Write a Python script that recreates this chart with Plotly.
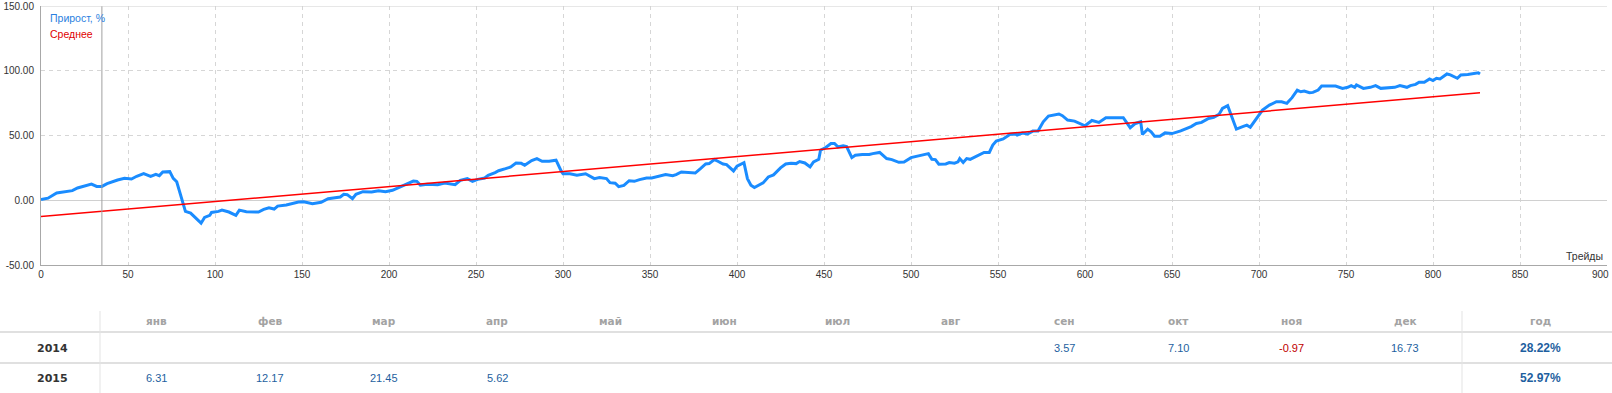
import plotly.graph_objects as go

# ---------------- data ----------------
trades = [0, 4, 9, 12, 14, 18, 21, 25, 29, 32, 35, 38, 41, 44, 48, 52, 55, 59, 63, 66, 68, 70, 74, 76, 78, 81,
          83, 86, 89, 92, 94, 97, 98, 102, 104, 108, 112, 114, 118, 125, 128, 131, 134, 136, 141, 144, 148, 151,
          156, 161, 165, 169, 172, 174, 176, 179, 181, 185, 190, 194, 198, 202, 206, 210, 214, 216, 218, 222,
          228, 232, 238, 241, 245, 248, 251, 255, 257, 261, 263, 267, 270, 273, 276, 278, 282, 285, 288, 292,
          296, 299,
          300, 304, 308, 313, 316, 318, 321, 325, 327, 330, 332, 335, 338, 341, 344, 348, 351, 354, 359, 363,
          365, 368, 373, 376, 379, 382, 384, 387, 389, 392, 394, 398, 400, 404, 406, 408, 410, 413, 415, 418,
          421, 425, 428, 431, 434, 436, 439, 442, 444, 447, 448, 451, 454, 456, 458, 461, 463, 466, 468, 472,
          476, 478, 482, 486, 489, 493, 496, 500, 504, 507, 510, 512, 514, 516, 520, 522, 525, 527, 528, 530,
          532, 534, 537, 542, 545, 547, 549, 553, 557, 560, 561, 564, 567, 570, 573, 576, 579, 582, 585, 587,
          590, 594, 597,
          600, 604, 608, 612, 616, 622, 626, 629, 632, 633, 636, 638, 640, 643, 646, 650, 655, 659, 661, 664,
          667, 671, 674, 677, 679, 682, 684, 687, 691, 693, 695, 699, 702, 706, 710, 713, 716, 719, 722, 724,
          726, 729, 731, 734, 736, 739, 744, 748, 751, 753, 755, 756, 760, 764, 767, 770, 773, 778, 781, 785,
          787, 790, 792, 795, 798, 800, 802, 804, 808, 810, 814, 816, 820, 823, 826, 827]

growth = [0.5, 1.6, 5.6, 6.1, 6.4, 7.4, 9.5, 10.9, 12.5, 10.7, 10.7, 12.8, 14.5, 15.6, 16.9, 16.4, 18.5, 20.5,
          18.4, 20.0, 19.0, 21.8, 22.1, 16.9, 14.3, 1.4,
          -8.6, -9.9, -13.8, -17.7, -13.3, -11.7, -9.4, -8.6, -7.6, -9.1, -11.7, -7.6, -8.9, -9.1, -7.1, -5.8,
          -6.8, -4.5, -3.7, -2.7, -1.4, -1.1,
          -2.7, -1.6, 1.2, 2.0, 2.5, 4.6, 4.3, 1.2, 4.6, 6.6, 6.4, 7.4, 6.6, 7.7, 10.2, 12.5, 14.8, 14.6, 11.7,
          12.3,
          12.0, 13.3, 12.0, 15.4, 16.7, 14.6, 16.1, 17.2, 19.2, 21.3, 22.8, 24.4, 25.7, 28.8, 28.5, 27.0, 30.6,
          32.2, 30.1, 30.1,
          30.9, 22.4,
          20.5, 20.5, 19.3, 20.5, 18.0, 16.7, 17.5, 16.7, 13.6, 13.1, 10.5, 11.5, 15.1, 14.6, 15.9, 17.2, 17.2,
          18.2, 19.8, 19.0,
          19.8, 21.8, 21.6, 21.0, 24.4, 28.0, 28.3, 31.4, 30.1, 28.0, 27.5, 22.6, 26.4, 29.0, 16.7, 11.6, 9.8,
          12.1, 13.4, 18.0,
          19.6, 25.0, 28.0, 28.6, 28.3, 29.9, 28.8, 25.7, 29.6, 31.6, 38.6, 40.7, 43.8, 43.8, 41.2, 42.0, 41.5,
          32.9, 34.7, 35.3,
          35.3, 36.0, 36.9, 32.2, 31.4, 29.3, 29.6, 32.9, 34.0, 35.0, 36.0, 31.6, 31.4, 27.8, 28.0, 29.1, 28.6,
          29.6, 32.2, 29.1,
          32.2, 31.6, 33.5, 36.9, 36.9, 42.6, 45.7, 47.3, 50.9, 51.2, 50.4, 51.9, 51.2, 53.4, 53.4, 60.6, 65.0,
          65.8, 66.6, 65.3,
          61.9, 61.1, 59.3,
          57.5, 61.6, 60.1, 63.7, 63.7, 63.7, 56.0, 59.3, 60.6, 50.8, 54.9, 52.8, 49.5, 49.5, 52.0, 51.5, 53.6,
          55.4, 56.9, 59.3,
          60.1, 63.2, 64.0, 66.3, 70.9, 73.0, 65.3, 54.9, 57.0, 58.0, 56.4, 64.5, 69.6, 73.5, 76.1, 76.1, 74.8,
          79.2, 85.1, 83.8,
          84.3, 83.1, 83.3, 85.1, 88.2, 88.2, 88.2, 86.4, 87.2, 88.5, 87.2, 89.0, 86.4, 87.2, 88.5, 86.4, 86.9,
          87.2, 88.5, 87.2,
          88.5, 89.5, 91.1, 91.1, 93.7, 92.4, 94.2, 93.7, 97.5, 96.8, 94.2, 96.8, 97.1, 97.8, 98.4, 97.5]

avg_trades = [0, 827]
avg_values = [-12.5, 83.0]

marker_trade = 35

x_ticks = list(range(0, 901, 50))
y_ticks = [-50, 0, 50, 100, 150]

months = ["янв", "фев", "мар", "апр", "май", "июн", "июл", "авг", "сен", "окт", "ноя", "дек"]
year_header = "год"
years = ["2014", "2015"]
monthly = [
    [None, None, None, None, None, None, None, None, 3.57, 7.10, -0.97, 16.73],
    [6.31, 12.17, 21.45, 5.62, None, None, None, None, None, None, None, None],
]
yearly = [28.22, 52.97]

# ---------------- layout helpers ----------------
W, H = 1612, 393
PL, PR, PT, PB = 41, 1607, 6, 265


def px_x(x):
    return (x - PL) / (PR - PL)


def px_y(y):
    return (PB - y) / (PB - PT)


BLUE = "#1a8cff"
RED = "#ff0000"
GRID = "#d6d6d6"
AXIS = "#a8a8a8"

fig = go.Figure()
fig.add_trace(go.Scatter(x=trades, y=growth, mode="lines",
                         line=dict(color=BLUE, width=3), name="Прирост, %", hoverinfo="skip"))
fig.add_trace(go.Scatter(x=avg_trades, y=avg_values, mode="lines",
                         line=dict(color=RED, width=1.5), name="Среднее", hoverinfo="skip"))

shapes = []
# vertical marker line
shapes.append(dict(type="line", xref="x", yref="y", x0=marker_trade, x1=marker_trade, y0=-50, y1=150,
                   line=dict(color="#a0a0a0", width=1)))
# top border
shapes.append(dict(type="line", xref="x", yref="y", x0=0, x1=900, y0=150, y1=150,
                   line=dict(color="#cfcfcf", width=1)))

# table lines
TCOL0, TCOLY = 100, 1462
ROW_HDR, ROW1, ROW2 = 321, 348, 378
for yy in (332, 363):
    shapes.append(dict(type="line", xref="paper", yref="paper", x0=px_x(0), x1=px_x(W), y0=px_y(yy), y1=px_y(yy),
                       line=dict(color="#e0e0e0", width=2)))
for xx in (TCOL0, TCOLY):
    shapes.append(dict(type="line", xref="paper", yref="paper", x0=px_x(xx), x1=px_x(xx), y0=px_y(311),
                       y1=px_y(H), line=dict(color="#e3e3e3", width=1)))

ann = []
ann.append(dict(text="Прирост, %", x=px_x(48), y=px_y(18), xref="paper", yref="paper", xanchor="left",
                yanchor="middle", showarrow=False, font=dict(family="Liberation Sans", size=10.5, color="#2a7fe0")))
ann.append(dict(text="Среднее", x=px_x(48), y=px_y(34), xref="paper", yref="paper", xanchor="left",
                yanchor="middle", showarrow=False, font=dict(family="Liberation Sans", size=10.5, color="#e00000")))
ann.append(dict(text="Трейды", x=px_x(1605), y=px_y(256), xref="paper", yref="paper", xanchor="right",
                yanchor="middle", showarrow=False, font=dict(family="Liberation Sans", size=10.5, color="#333333")))
# last x tick label (kept inside the page at its right edge)
ann.append(dict(text=str(x_ticks[-1]), x=px_x(1611), y=px_y(274), xref="paper", yref="paper", xanchor="right",
                yanchor="middle", showarrow=False, font=dict(family="Liberation Sans", size=10, color="#333333")))

colw = (TCOLY - TCOL0) / 12
for i, m in enumerate(months):
    cx = TCOL0 + colw * (i + 0.5)
    ann.append(dict(text="<b>%s</b>" % m, x=px_x(cx), y=px_y(ROW_HDR), xref="paper", yref="paper",
                    xanchor="center", yanchor="middle", showarrow=False,
                    font=dict(family="DejaVu Sans", size=10.5, color="#a3a3a3")))
ann.append(dict(text="<b>%s</b>" % year_header, x=px_x(1540), y=px_y(ROW_HDR), xref="paper", yref="paper",
                xanchor="center", yanchor="middle", showarrow=False,
                font=dict(family="DejaVu Sans", size=10.5, color="#a3a3a3")))

for r, (yr, vals, tot) in enumerate(zip(years, monthly, yearly)):
    ry = ROW1 if r == 0 else ROW2
    ann.append(dict(text="<b>%s</b>" % yr, x=px_x(52), y=px_y(ry), xref="paper", yref="paper",
                    xanchor="center", yanchor="middle", showarrow=False,
                    font=dict(family="DejaVu Sans", size=11, color="#333333")))
    for i, v in enumerate(vals):
        if v is None:
            continue
        cx = TCOL0 + colw * (i + 0.5)
        ann.append(dict(text="%.2f" % v, x=px_x(cx), y=px_y(ry), xref="paper", yref="paper",
                        xanchor="center", yanchor="middle", showarrow=False,
                        font=dict(family="Liberation Sans", size=11,
                                  color="#c00000" if v < 0 else "#1e5fa0")))
    ann.append(dict(text="<b>%.2f%%</b>" % tot, x=px_x(1540), y=px_y(ry), xref="paper", yref="paper",
                    xanchor="center", yanchor="middle", showarrow=False,
                    font=dict(family="Liberation Sans", size=12, color="#1e5fa0")))

fig.update_layout(
    width=W, height=H, autosize=False,
    margin=dict(l=PL, r=W - PR, t=PT, b=H - PB, pad=0, autoexpand=False),
    paper_bgcolor="white", plot_bgcolor="white",
    showlegend=False, hovermode=False,
    shapes=shapes, annotations=ann,
    font=dict(family="Liberation Sans", size=10, color="#333333"),
)
fig.update_xaxes(range=[0, 900], tickvals=x_ticks, ticktext=[str(v) for v in x_ticks],
                 automargin=False,
                 showgrid=True, gridcolor=GRID, griddash="4px,4px", gridwidth=1,
                 showline=True, linecolor=AXIS, linewidth=1, zeroline=False,
                 ticks="", tickfont=dict(family="Liberation Sans", size=10, color="#333333"))
fig.update_yaxes(range=[-50, 150], tickvals=y_ticks, ticktext=["%.2f" % v for v in y_ticks],
                 automargin=False,
                 showgrid=True, gridcolor=GRID, griddash="4px,4px", gridwidth=1,
                 showline=True, linecolor=AXIS, linewidth=1,
                 zeroline=True, zerolinecolor="#d0d0d0", zerolinewidth=1,
                 ticks="", ticklabelstandoff=4,
                 tickfont=dict(family="Liberation Sans", size=10, color="#333333"))

fig.write_html("out.html", config={"displayModeBar": False},
               post_script="document.body.style.margin='0';document.body.style.overflow='hidden';")
